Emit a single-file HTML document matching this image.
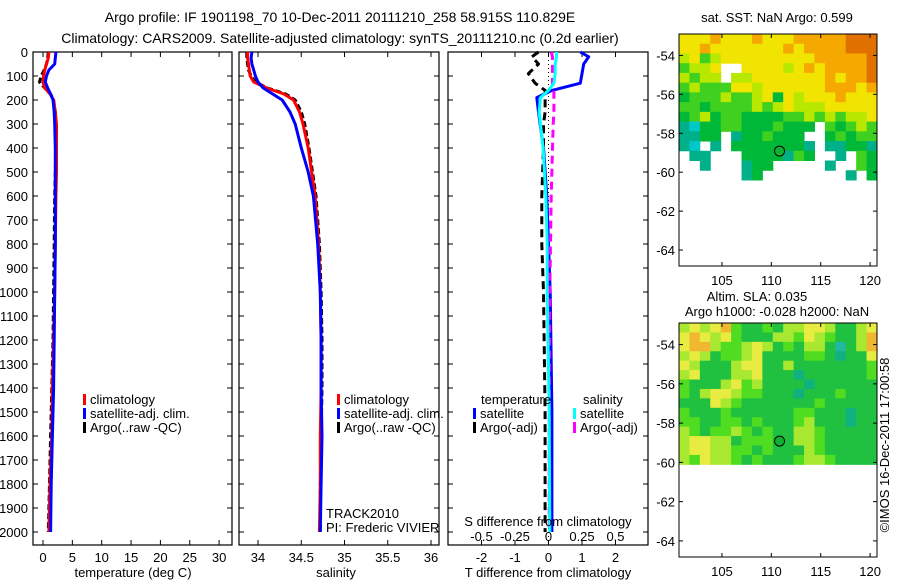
<!DOCTYPE html>
<html><head><meta charset="utf-8"><style>
html,body{margin:0;padding:0;background:#fff;}
svg{display:block;font-family:"Liberation Sans",sans-serif;}
</style></head><body>
<svg id="c" width="900" height="580" viewBox="0 0 900 580"></svg>
<script>
// ---- data ----
const depths = [0,25,50,75,100,125,150,175,200,250,300,400,500,600,800,1000,1200,1400,1600,1800,2000];
const tempClim = [1.0,0.9,0.6,0.3,0.1,0.0,0.3,1.2,1.8,2.1,2.3,2.3,2.3,2.2,2.1,2.0,1.8,1.6,1.5,1.2,1.0];
const tempSat  = [2.2,2.1,2.0,1.0,0.6,0.4,0.8,1.3,1.7,1.9,2.0,2.1,2.1,2.1,2.1,2.0,1.9,1.8,1.6,1.4,1.3];
const tempArgo = [0.9,0.8,0.6,0.2,-0.3,-0.6,0.3,1.3,1.8,2.1,2.2,2.2,2.1,2.0,1.9,1.8,1.7,1.5,1.3,1.1,0.9];
const salClim = [33.88,33.88,33.89,33.90,33.91,33.95,34.10,34.30,34.41,34.48,34.52,34.58,34.62,34.66,34.70,34.72,34.73,34.73,34.72,34.72,34.71];
const salSat  = [33.93,33.92,33.93,33.95,33.97,34.00,34.06,34.17,34.28,34.37,34.43,34.50,34.58,34.64,34.69,34.72,34.73,34.73,34.74,34.73,34.72];
const salArgo = [33.87,33.87,33.88,33.89,33.92,33.97,34.11,34.32,34.43,34.50,34.54,34.59,34.63,34.67,34.71,34.73,34.74,34.74,34.73,34.72,34.72];
const diffDepths = [0,20,50,90,130,160,190,250,300,400,600,800,1000,1500,2000];
const dTSat  = [0.95,1.2,1.05,1.0,0.95,0.1,-0.35,-0.3,-0.25,-0.15,-0.05,0.0,0.05,0.1,0.1];
const dTArgo = [-0.3,-0.5,-0.3,-0.6,-0.4,-0.1,-0.1,-0.1,-0.15,-0.15,-0.2,-0.2,-0.15,-0.1,-0.1];
const dSSat  = [0.06,0.06,0.05,0.05,0.04,0.0,-0.06,-0.07,-0.06,-0.04,-0.02,-0.01,-0.01,0.005,0.01];
const dSArgo = [0.02,0.03,0.03,0.03,0.03,0.04,0.04,0.04,0.035,0.03,0.02,0.015,0.01,0.005,0.005];
const depthTicks = [0,100,200,300,400,500,600,700,800,900,1000,1100,1200,1300,1400,1500,1600,1700,1800,1900,2000];
const tempTicks = [0,5,10,15,20,25,30];
const salTicks = [34,34.5,35,35.5,36];
const salTickLabels = ["34","34.5","35","35.5","36"];
const tdTicks = [-2,-1,0,1,2];
const sdTicks = [-0.5,-0.25,0,0.25,0.5];
const sdTickLabels = ["-0.5","-0.25","0","0.25","0.5"];
const latTicks = [-54,-56,-58,-60,-62,-64];
const lonTicks = [105,110,115,120];
const sstRows = [
"yyyoyyyoyyyoooooOOO","yyoyyyyyyyoyooooOOO","lyglyyyyyyyyyoooooO","glly..yyyylyoyooooO",
"lgll.llyyyyyyyoyooO","glgggyylyyyyyyoooyo","GggglgglyGylyyyoyyy","ggGgggglglylllyyyyy",
"GglGggGGGGgglglglly","tcGGggGGGgGGG.gGglg","ttGG.tGGgGGG..GgGgg","tc.t.GGGGGGGt.ttGGt",
".tt...GGGGtgG..t.gG","..t...tGG.....t..gG","......tG........t.G"];
const slaRows = [
"lylyogGGgGllyylGGly","yoylygGGGllgylgGGlo","yoolgglylGgGllGcGlo","lylGgglyGGGGggGtGGy",
"ylGGGlyyGGlGGGGGGGg","lyGGGllyGGGtGGGGGGg","gGGGlyglGGGGtGGGGGG","gGlyylggGGGtGGGgGGG",
"GGGylgGGGGGGGgGGGGG","gGGGgGGGGGGggGGGtGG","ggGGggGgGGGglGGGtGG","lgGgglgGgGGllgGGGGG",
"lyyllGgggGGllgGGGGG","lyyllggGgGGGlgGGGGG","lgyllgGgGGGgllgGGGG"];
const argoLon = 110.829, argoLat = -58.915;

// ---- helpers ----
const NS="http://www.w3.org/2000/svg";
const svg=document.getElementById('c');
function el(tag,attrs,parent){const e=document.createElementNS(NS,tag);for(const k in attrs)e.setAttribute(k,attrs[k]);(parent||svg).appendChild(e);return e;}
function txt(x,y,s,anchor,size,parent){const t=el('text',{x:x,y:y,'text-anchor':anchor||'start','font-size':size||13,fill:'#000'},parent);t.textContent=s;return t;}

const Y0=52, PY=0.24; // depth axis
const yD=d=>Y0+d*PY;
const TOP=52, BOT=545;
const panels=[
 {name:'temperature-panel',x0:33,x1:232,f:v=>43+v*5.87},
 {name:'salinity-panel',x0:239,x1:439,f:v=>258+(v-34)*86.5},
 {name:'difference-panel',x0:448,x1:648,f:v=>548.5+v*33.5}
];
panels.forEach((p,i)=>{
  const g=el('g',{});
  
  
  el('rect',{x:p.x0,y:TOP,width:p.x1-p.x0,height:BOT-TOP,fill:'none',stroke:'#000','stroke-width':1.2},g);
  depthTicks.forEach(d=>{
    el('line',{x1:p.x0,x2:p.x0+5,y1:yD(d),y2:yD(d),stroke:'#000'},g);
    el('line',{x1:p.x1-5,x2:p.x1,y1:yD(d),y2:yD(d),stroke:'#000'},g);
    if(i==0){const t=txt(28,yD(d)+5,String(d),'end',13,g);}
  });
});
function xtick(p,v,label,ly){
  const x=p.f(v);
  el('line',{x1:x,x2:x,y1:TOP,y2:TOP+5,stroke:'#000'});
  el('line',{x1:x,x2:x,y1:BOT-5,y2:BOT,stroke:'#000'});
  const t=txt(x,ly,label,'middle',13);
  
  
}
tempTicks.forEach(v=>xtick(panels[0],v,String(v),562));
salTicks.forEach((v,k)=>xtick(panels[1],v,salTickLabels[k],562));
tdTicks.forEach(v=>xtick(panels[2],v,String(v),562));
sdTicks.forEach((v,k)=>{const t=txt(panels[2].f(v*4),541,sdTickLabels[k],'middle',13);});

function line(xs,ds,f,color,dash,name,w){
  const pts=xs.map((v,k)=>f(v).toFixed(1)+','+yD(ds[k]).toFixed(1)).join(' ');
  const pl=el('polyline',{points:pts,fill:'none',stroke:color,'stroke-width':w||3,'stroke-dasharray':dash||'none','stroke-linejoin':'round'});
  
  
}
line(tempArgo,depths,panels[0].f,'#000','6 3','temp-argo-line');
line(tempClim,depths,panels[0].f,'#f00',null,'temp-climatology-line');
line(tempSat,depths,panels[0].f,'#00f',null,'temp-satellite-line');
line(salArgo,depths,panels[1].f,'#000','6 3','sal-argo-line');
line(salClim,depths,panels[1].f,'#f00',null,'sal-climatology-line');
line(salSat,depths,panels[1].f,'#00f',null,'sal-satellite-line');
const zl=el('line',{x1:panels[2].f(0),x2:panels[2].f(0),y1:TOP,y2:BOT,stroke:'#000','stroke-dasharray':'1 3'});


line(dTSat,diffDepths,panels[2].f,'#00f',null,'tdiff-satellite-line');
line(dTArgo,diffDepths,panels[2].f,'#000','8 5','tdiff-argo-line');
line(dSArgo,diffDepths,v=>panels[2].f(v*4),'#f0f','8 5','sdiff-argo-line');
line(dSSat,diffDepths,v=>panels[2].f(v*4),'#0ff',null,'sdiff-satellite-line');

// legends
function leg(x,y,color,label,name){
  const g=el('g',{});
  
  
  el('rect',{x:x,y:y-10,width:3,height:11,fill:color},g);
  txt(x+7,y,label,'start',13,g);
}
leg(83,404,'#f00','climatology','legend-climatology');
leg(83,418,'#00f','satellite-adj. clim.','legend-satellite');
leg(83,432,'#000','Argo(..raw -QC)','legend-argo');
leg(337,404,'#f00','climatology','legend-climatology-2');
leg(337,418,'#00f','satellite-adj. clim.','legend-satellite-2');
leg(337,432,'#000','Argo(..raw -QC)','legend-argo-2');
txt(481,404,'temperature');txt(583,404,'salinity');
leg(473,418,'#00f','satellite','legend-t-satellite');
leg(473,432,'#000','Argo(-adj)','legend-t-argo');
leg(573,418,'#0ff','satellite','legend-s-satellite');
leg(573,432,'#f0f','Argo(-adj)','legend-s-argo');
txt(326,518,'TRACK2010');txt(326,532,'PI: Frederic VIVIER');
txt(548,526,'S difference from climatology','middle');
txt(133,577,'temperature (deg C)','middle');
txt(336,577,'salinity','middle');
txt(548,577,'T difference from climatology','middle');
txt(340,22,'Argo profile: IF 1901198_70 10-Dec-2011 20111210_258 58.915S 110.829E','middle',14);
txt(340,43,'Climatology: CARS2009. Satellite-adjusted climatology: synTS_20111210.nc (0.2d earlier)','middle',14);

// maps
const pal1={o:'#f4a800',O:'#e07000',y:'#f0e400',l:'#b8e800',g:'#40d020',G:'#00b838',t:'#00b088',c:'#00c8c8'};
const pal2={o:'#f0b830',O:'#e89020',y:'#e8ec40',l:'#a8e830',g:'#50dc20',G:'#20c040',t:'#10b080',c:'#20b8a0'};
function map(name,top,bot,rows,pal,dataBottomLat,titles){
  const x0=679,x1=877,lonA=100.65,lonB=120.7,latT=-52.9,latB=-64.82;
  const lx=v=>x0+(v-lonA)/(lonB-lonA)*(x1-x0);
  const ly=v=>top+(latT-v)/(latT-latB)*(bot-top);
  const g=el('g',{});
  
  
  const nr=rows.length,nc=rows[0].length;
  const dlat=(latT-dataBottomLat)/nr,dlon=(lonB-lonA)/nc;
  rows.forEach((r,i)=>{for(let j=0;j<nc;j++){const ch=r[j];if(ch==='.'||!pal[ch])continue;
    const xa=lx(lonA+j*dlon),xb=lx(lonA+(j+1)*dlon),ya=ly(latT-i*dlat),yb=ly(latT-(i+1)*dlat);
    el('rect',{x:xa,y:ya,width:xb-xa+0.5,height:yb-ya+0.5,fill:pal[ch]},g);}});
  el('rect',{x:x0,y:top,width:x1-x0,height:bot-top,fill:'none',stroke:'#000'},g);
  latTicks.forEach(v=>{el('line',{x1:x0,x2:x0+4,y1:ly(v),y2:ly(v),stroke:'#000'},g);el('line',{x1:x1-4,x2:x1,y1:ly(v),y2:ly(v),stroke:'#000'},g);txt(x0-4,ly(v)+5,String(v),'end',13,g);});
  lonTicks.forEach(v=>{el('line',{x1:lx(v),x2:lx(v),y1:bot-4,y2:bot,stroke:'#000'},g);el('line',{x1:lx(v),x2:lx(v),y1:top,y2:top+4,stroke:'#000'},g);txt(lx(v),bot+19,String(v),'middle',13,g);});
  const m=el('circle',{cx:lx(argoLon),cy:ly(argoLat),r:5,fill:'#10b030',stroke:'#000','stroke-width':1},g);
  
  
  titles.forEach((t,k)=>txt(t[1],t[2],t[0],'middle',13,g));
}
map('sst-map',34,266,sstRows,pal1,-60.4,[['sat. SST: NaN Argo: 0.599',777,22]]);
map('sla-map',323,557,slaRows,pal2,-60.1,[['Altim. SLA: 0.035',757,301],['Argo h1000: -0.028 h2000: NaN',777,316]]);
const r=txt(0,0,'©IMOS 16-Dec-2011 17:00:58','middle',13);
r.setAttribute('transform','translate(889,445) rotate(-90)');


</script>
</body></html>
